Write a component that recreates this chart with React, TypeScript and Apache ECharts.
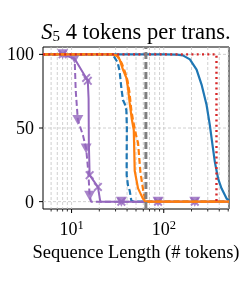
import { useEffect, useRef } from "react";
import * as echarts from "echarts";

const X_MIN = 4.9;
const X_MAX = 510;
const Y_MIN = -5;
const Y_MAX = 105;
const yTicks = [0, 50, 100];
const xMajorTicks = [10, 100];
const xMinorTicks = [6, 7, 8, 9, 20, 30, 40, 50, 60, 70, 80, 90, 200, 300, 400, 500];

const blueSolid = [
  [4.9, 100], [100, 100], [140, 99.8], [161, 99.3], [192, 96.6], [227, 89.7], [257, 79.5],
  [291, 65.8], [316, 52], [338, 38.4], [358, 27], [389, 15.5], [424, 8.9], [480, 2.1], [510, 0.8],
];
const blueDash = [
  [4.9, 100], [27.9, 100], [31.6, 94.5], [33.2, 88.6], [34.7, 77], [36.1, 69], [38, 66],
  [39.3, 62], [39.8, 50], [39.6, 30], [39.6, 18], [40.9, 11], [42.7, 7.5], [44.5, 0.7],
  [47, 0], [510, 0],
];
const orangeSolid = [
  [4.9, 100], [28.1, 100], [31, 99], [33.2, 96.6], [36.1, 89.7], [39.3, 84], [40.9, 77.4],
  [42.7, 67], [45, 56], [47.3, 48.6], [48.4, 21], [52.6, 9], [59.5, 2], [63, 0], [510, 0],
];
const orangeDash = [
  [4.9, 100], [29, 100], [32, 98.5], [35, 94], [38, 88], [40.5, 82], [42.5, 74], [44.5, 62],
  [46.5, 55], [51.3, 42], [52.6, 40], [55.8, 20], [60.6, 5.5], [64, 0], [510, 0],
];
const purpleSolid = [
  [8, 100], [10.8, 97], [14.4, 84], [15, 82], [15.3, 70], [15.4, 40], [15.7, 18], [19.3, 10],
  [20.5, 0], [34.7, 0], [86.7, 0], [217, 0], [510, 0],
];
const purpleSolidMarkX = [8, 14.4, 15, 15.7, 19.3, 34.7, 86.7, 217];
const purpleDash = [
  [8, 100], [10.8, 97], [11.1, 75], [11.7, 55.5], [13.3, 45], [14.4, 36], [15.2, 20], [15.7, 4],
  [16.3, 0], [34.7, 0], [86.7, 0], [217, 0], [510, 0],
];
const purpleDashMarkX = [8, 10.8, 11.7, 14.4, 15.7, 34.7, 86.7, 217];
const redDotted = [[4.9, 100], [373, 100], [373, 0], [378, 0]];
const grayDashed = [[64, Y_MIN], [64, Y_MAX]];

const BLUE = "#1f77b4";
const ORANGE = "#ff7f0e";
const RED = "#d62728";
const PURPLE = "#9467bd";
const GRAY = "#7f7f7f";
const FONT = "Liberation Serif";
const X_PATH =
  "path://M1.5,0 L5,3.5 L8.5,0 L10,1.5 L6.5,5 L10,8.5 L8.5,10 L5,6.5 L1.5,10 L0,8.5 L3.5,5 L0,1.5 Z";

function lineSeries(data: number[][], color: string, type: any, width: number) {
  return {
    type: "line",
    data,
    symbol: "none",
    showSymbol: false,
    silent: true,
    lineStyle: { color, width, type },
    itemStyle: { color },
  };
}

export default function App() {
  const ref = useRef<HTMLDivElement>(null);
  useEffect(() => {
    const el = ref.current!;
    const chart = echarts.init(el, null, { renderer: "svg" });
    const isPow = (v: number, p: number) => Math.abs(Math.log10(v) - p) < 1e-6;
    chart.setOption({
      animation: false,
      grid: {
        left: 43, right: 14, top: 47, bottom: 79,
        show: true, borderColor: "#000", borderWidth: 1, backgroundColor: "transparent",
      },
      xAxis: {
        type: "log", logBase: 10, min: X_MIN, max: X_MAX,
        axisLine: { show: false }, axisTick: { show: false }, splitLine: { show: false },
        minorTick: { show: false }, minorSplitLine: { show: false },
        axisLabel: {
          margin: 9, color: "#000", fontFamily: FONT, fontSize: 18,
          formatter: (v: number) => (isPow(v, 1) ? "{b|10}{s|1}" : isPow(v, 2) ? "{b|10}{s|2}" : ""),
          rich: {
            b: { fontFamily: FONT, fontSize: 18, color: "#000" },
            s: { fontFamily: FONT, fontSize: 12.5, color: "#000", padding: [0, 0, 9, 0] },
          },
        },
        name: "Sequence Length (# tokens)",
        nameLocation: "middle", nameGap: 33,
        nameTextStyle: { fontFamily: FONT, fontSize: 18.5, color: "#000" },
      },
      yAxis: {
        type: "value", min: Y_MIN, max: Y_MAX, interval: 5,
        axisLine: { show: false }, axisTick: { show: false }, splitLine: { show: false },
        axisLabel: {
          interval: 0, margin: 9, color: "#000", fontFamily: FONT, fontSize: 18,
          formatter: (v: number) => (yTicks.includes(v) ? String(v) : ""),
        },
      },
      series: [
        lineSeries(blueSolid, BLUE, "solid", 2.2),
        lineSeries(blueDash, BLUE, [6, 3], 2.2),
        lineSeries(purpleSolid, PURPLE, "solid", 2),
        lineSeries(purpleDash, PURPLE, [6, 3], 2),
        lineSeries(orangeSolid, ORANGE, "solid", 2.2),
        lineSeries(orangeDash, ORANGE, [6, 3], 2.2),
        lineSeries(redDotted, RED, [2, 3.3], 2.4),
        lineSeries(grayDashed, GRAY, [7, 3], 3),
        {
          type: "scatter", silent: true,
          data: purpleSolid.filter((p) => purpleSolidMarkX.includes(p[0])),
          symbol: X_PATH, symbolSize: 9, itemStyle: { color: PURPLE },
        },
        {
          type: "scatter", silent: true,
          data: purpleDash.filter((p) => purpleDashMarkX.includes(p[0])),
          symbol: "triangle", symbolRotate: 180, symbolSize: [11, 10], itemStyle: { color: PURPLE },
        },
      ],
    });

    const px = (x: number, y: number) => chart.convertToPixel({ gridIndex: 0 }, [x, y]) as number[];
    const [left, bottom] = px(X_MIN, Y_MIN);
    const [right, top] = px(X_MAX, Y_MAX);
    const gridStyle = { stroke: "#c4c4c4", lineWidth: 0.8, lineDash: [3, 2] };
    const tickStyle = { stroke: "#000", lineWidth: 1 };
    const graphics: any[] = [];
    [...xMajorTicks, ...xMinorTicks].forEach((v) => {
      const x = px(v, 0)[0];
      graphics.push({ type: "line", z: 1, silent: true, shape: { x1: x, y1: top, x2: x, y2: bottom }, style: gridStyle });
    });
    yTicks.forEach((v) => {
      const y = px(X_MIN, v)[1];
      graphics.push({ type: "line", z: 1, silent: true, shape: { x1: left, y1: y, x2: right, y2: y }, style: gridStyle });
      graphics.push({ type: "line", z: 10, silent: true, shape: { x1: left - 4, y1: y, x2: left, y2: y }, style: tickStyle });
    });
    xMajorTicks.forEach((v) => {
      const x = px(v, 0)[0];
      graphics.push({ type: "line", z: 10, silent: true, shape: { x1: x, y1: bottom, x2: x, y2: bottom + 4 }, style: tickStyle });
    });
    xMinorTicks.forEach((v) => {
      const x = px(v, 0)[0];
      graphics.push({ type: "line", z: 10, silent: true, shape: { x1: x, y1: bottom, x2: x, y2: bottom + 2.5 }, style: { stroke: "#000", lineWidth: 0.8 } });
    });
    graphics.push({
      type: "text", z: 10, silent: true,
      style: {
        x: (left + right) / 2, y: 31, align: "center", verticalAlign: "middle",
        text: "{i|S}{sub|5}{n| 4 tokens per trans.}",
        rich: {
          i: { fontFamily: FONT, fontSize: 22.5, fontStyle: "italic", fill: "#000" },
          sub: { fontFamily: FONT, fontSize: 15, fill: "#000", padding: [9, 0, 0, 0] },
          n: { fontFamily: FONT, fontSize: 22.5, fill: "#000" },
        },
      },
    });
    chart.setOption({ graphic: graphics });
    return () => chart.dispose();
  }, []);
  return <div ref={ref} style={{ position: "fixed", left: 0, top: 0, width: 243, height: 288 }} />;
}
